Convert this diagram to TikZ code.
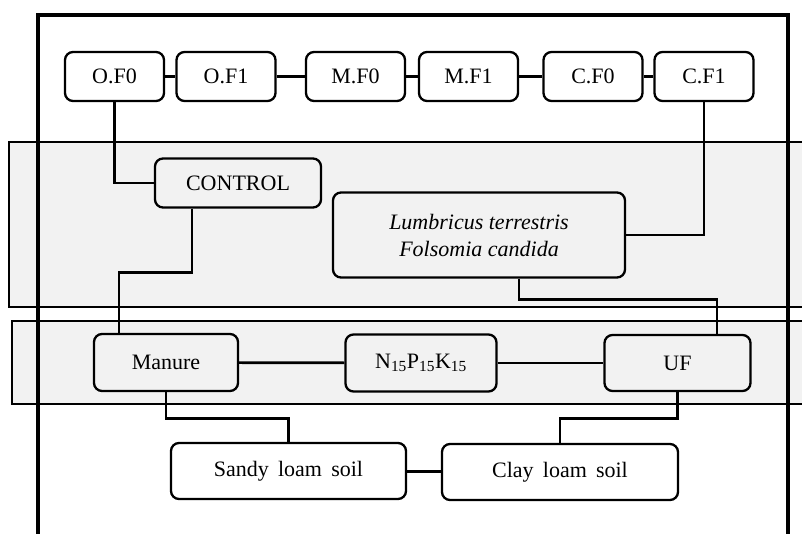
\documentclass[tikz,border=0pt]{standalone}
\usepackage{fontspec}
\setmainfont{Liberation Serif}
\usepackage{xcolor}
\usepackage{tikz}
\usetikzlibrary{positioning,calc}

\definecolor{bandgray}{RGB}{242,242,242}

\begin{document}
\begin{tikzpicture}[x=1pt, y=-1pt,
  box/.style={draw, line width=2.3pt, rounded corners=8pt, minimum width=#1,
              align=center, inner sep=2pt,
              font=\fontsize{22}{27}\selectfont},
  box/.default=99pt,
  link/.style={line width=2.7pt, black},
  band/.style={draw, line width=1.8pt, fill=bandgray},
  frame/.style={line width=3.6pt}
]
\useasboundingbox (0,0) rectangle (802,534);

%% ---- shaded bands ----
\draw[band] (9,142) rectangle (806,307);
\draw[band] (12,321) rectangle (806,404);

%% ---- outer frame ----
\draw[frame] (38,536) -- (38,15) -- (788,15) -- (788,536);

%% ---- top row ----
\node[box, minimum height=49pt] (of0) at (114.5, 76.5) {O.F0};
\node[box, minimum height=49pt] (of1) at (226.0, 76.5) {O.F1};
\node[box, minimum height=49pt] (mf0) at (355.5, 76.5) {M.F0};
\node[box, minimum height=49pt] (mf1) at (468.5, 76.5) {M.F1};
\node[box, minimum height=49pt] (cf0) at (593.0, 76.5) {C.F0};
\node[box, minimum height=49pt] (cf1) at (704.0, 76.5) {C.F1};

%% ---- organisms ----
\node[box=166pt, minimum height=49pt] (control) at (238, 183) {CONTROL};
\node[box=292pt, minimum height=85pt] (lumb) at (479, 235)
  {\itshape Lumbricus terrestris\\\itshape Folsomia candida};

%% ---- fertilizers ----
\node[box=144pt, minimum height=57pt] (manure) at (166.0, 362.5) {Manure};
\node[box=151pt, minimum height=57pt] (npk) at (421.0, 363.0)
  {N\textsubscript{15}P\textsubscript{15}K\textsubscript{15}};
\node[box=146pt, minimum height=56pt] (uf) at (677.5, 363.0) {UF};

%% ---- soils ----
\node[box=235pt, minimum height=56pt] (sandy) at (288.5, 471) {Sandy\, loam\, soil};
\node[box=236pt, minimum height=56pt] (clay) at (560.0, 472) {Clay\, loam\, soil};

%% top row links
\foreach \a/\b in {of0/of1, of1/mf0, mf0/mf1, mf1/cf0, cf0/cf1}
  \draw[link] (\a) -- (\b);

%% down to the organisms
\draw[link] (of0.south) |- (control.west);
\draw[link] (cf1.south) |- (lumb.east);

%% organisms to fertilizers
\draw[link] ([xshift=-46pt]control.south) -- ++(0,64) -| ([xshift=-47pt]manure.north);
\draw[link] ([xshift=40pt]lumb.south) -- ++(0,20.5) -| ([xshift=39.5pt]uf.north);

%% fertilizer row
\draw[link] (manure) -- (npk);
\draw[link] (npk) -- (uf);

%% fertilizers to soils
\draw[link] (manure.south) -- ++(0,26) -| (sandy.north);
\draw[link] (uf.south) -- ++(0,26) -| (clay.north);
\draw[link] (sandy) -- (clay);

\end{tikzpicture}
\end{document}
